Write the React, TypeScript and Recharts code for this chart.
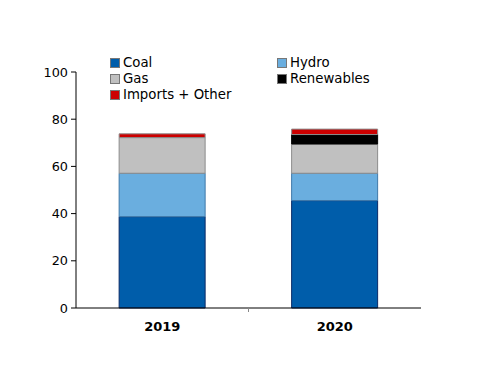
import React from 'react';
import { BarChart, Bar, XAxis, YAxis } from 'recharts';

const years = ['2019', '2020'];
const coal = [38.7, 45.5];
const hydro = [18.4, 11.6];
const gas = [15.1, 12.4];
const renewables = [0, 4.0];
const imports = [1.6, 2.3];
const yTicks = [0, 20, 40, 60, 80, 100];

const data = years.map((y, i) => ({
  year: y,
  coal: coal[i],
  hydro: hydro[i],
  gas: gas[i],
  renewables: renewables[i],
  imports: imports[i],
}));

const series = [
  { key: 'coal', name: 'Coal', fill: '#005DAA', stroke: '#0A2A66' },
  { key: 'hydro', name: 'Hydro', fill: '#6AAEDF', stroke: '#3F78A8' },
  { key: 'gas', name: 'Gas', fill: '#C0C0C0', stroke: '#8C8C8C' },
  { key: 'renewables', name: 'Renewables', fill: '#000000', stroke: '#000000' },
  { key: 'imports', name: 'Imports + Other', fill: '#CC0000', stroke: '#8C8C8C' },
];

const legendOrder = ['coal', 'hydro', 'gas', 'renewables', 'imports'];

const W = 500;
const H = 386;
const LEFT = 76;
const RIGHT_M = 79;
const FONT = 'DejaVu Sans, Verdana, sans-serif';

const LegendBox = () => (
  <div style={{ position: 'absolute', left: 110, top: 55, width: 360, height: 50, fontFamily: FONT, fontSize: 13.3, color: '#000' }}>
    {legendOrder.map((k, i) => {
      const s = series.find((x) => x.key === k)!;
      const col = i % 2;
      const row = Math.floor(i / 2);
      return (
        <div
          key={k}
          style={{
            position: 'absolute',
            left: col * 167,
            top: row * 16,
            display: 'flex',
            alignItems: 'center',
            whiteSpace: 'nowrap',
            lineHeight: '16px',
          }}
        >
          <span
            style={{
              display: 'inline-block',
              width: 8,
              height: 8,
              background: s.fill,
              border: '1px solid #777',
              marginRight: 3,
            }}
          />
          {s.name}
        </div>
      );
    })}
  </div>
);

const band = (W - LEFT - RIGHT_M) / years.length;

const XTick = (props: any) => {
  const { x, y, payload, index } = props;
  return (
    <g>
      {index === 0 && (
        <line x1={x + band / 2} y1={y - 8} x2={x + band / 2} y2={y - 4} stroke="#888" strokeWidth={1} />
      )}
      <text x={x} y={y + 15} textAnchor="middle" fontFamily={FONT} fontSize={13} fontWeight="bold" fill="#000">
        {payload.value}
      </text>
    </g>
  );
};

export default function App() {
  return (
    <div style={{ position: 'absolute', left: 0, top: 0, width: W, height: H, background: '#fff' }}>
      <BarChart width={W} height={H} data={data} margin={{ top: 72, right: RIGHT_M, left: 0, bottom: 0 }} barCategoryGap="25%">
        <XAxis
          dataKey="year"
          height={78}
          axisLine={{ stroke: '#000', strokeWidth: 1 }}
          tickLine={false}
          tick={<XTick />}
          interval={0}
        />
        <YAxis
          width={LEFT}
          domain={[0, 100]}
          ticks={yTicks}
          interval={0}
          axisLine={{ stroke: '#000', strokeWidth: 1 }}
          tickLine={{ stroke: '#000' }}
          tickSize={5}
          tickMargin={3}
          tick={{ fontFamily: FONT, fontSize: 12.8, fill: '#000' }}
        />
        {series.map((s) => (
          <Bar
            key={s.key}
            dataKey={s.key}
            name={s.name}
            stackId="a"
            fill={s.fill}
            stroke={s.stroke}
            strokeWidth={1}
            isAnimationActive={false}
          />
        ))}
      </BarChart>
      <LegendBox />
    </div>
  );
}
